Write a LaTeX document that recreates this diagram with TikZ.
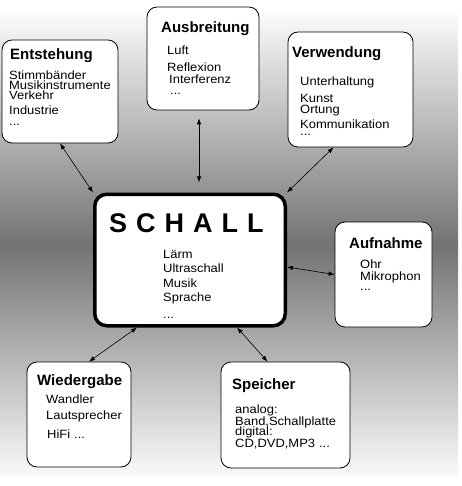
\documentclass[tikz,border=0pt]{standalone}
\usepackage{fontspec}
\setmainfont{Liberation Sans}
\newfontfamily\itemfont{Liberation Sans}[FakeStretch=1.08]
\usetikzlibrary{arrows.meta}
\definecolor{bgmid}{RGB}{115,115,115}
\definecolor{bgedge}{RGB}{250,250,250}
\newcommand{\lgap}{\hspace{9pt}}

\begin{document}
\begin{tikzpicture}[x=1pt,y=-1pt,
  topic/.style={rectangle,draw,rounded corners=10pt,fill=white,line width=0.8pt,inner sep=0pt},
  heading/.style={anchor=base west,inner sep=0pt,font={\fontsize{15}{15}\selectfont\bfseries}},
  items/.style={anchor=base west,inner sep=0pt,align=left,text width=130pt,font={\itemfont\fontsize{12}{10}\selectfont\lineskiplimit=-20pt}},
  link/.style={draw,line width=0.6pt,{Latex[length=6pt,width=4.5pt]}-{Latex[length=6pt,width=4.5pt]}}]
\useasboundingbox (0,0) rectangle (461,486);
\shade[top color=bgedge,bottom color=bgmid] (0,15) rectangle (458,245);
\shade[top color=bgmid,bottom color=bgedge] (0,245) rectangle (458,476);
% boxes
\node(entstbox)[topic,minimum width=116pt,minimum height=103pt] at (60,91.5){};
\node(ausbrbox)[topic,minimum width=112pt,minimum height=103pt] at (203,58.5){};
\node(verwbox)[topic,minimum width=125pt,minimum height=115pt] at (350.5,89.5){};
\node(schallbox)[topic,rounded corners=12pt,line width=3.5pt,minimum width=190.5pt,minimum height=131.5pt] at (190,260){};
\node(aufnbox)[topic,minimum width=97pt,minimum height=105pt] at (383.5,274.5){};
\node(wiederbox)[topic,minimum width=104pt,minimum height=105pt] at (79,414.5){};
\node(speichbox)[topic,minimum width=129pt,minimum height=106pt] at (285.5,415){};
% texts
\node(entsttitle)[heading] at (10,60){Entstehung};
\node(entstlist)[items] at (9,80){Stimmbänder\\Musikinstrumente\\Verkehr\\[5pt]Industrie\\[1pt]...};
\node(ausbrtitle)[heading] at (161,33){Ausbreitung};
\node(ausbrlist)[items] at (167,55){Luft\\[7pt]Reflexion\\[2pt]\hspace*{2pt}Interferenz\\[1pt]\hspace*{3pt}...};
\node(verwtitle)[heading] at (292,58){Verwendung};
\node(verwlist)[items] at (300,86){Unterhaltung\\[7pt]Kunst\\[1pt]Ortung\\[5pt]Kommunikation\\[-3pt]...};
\node(schalltitle)[anchor=base west,inner sep=0pt,font={\fontsize{27}{27}\selectfont\bfseries}] at (109,232){S\lgap C\lgap H\lgap A\lgap L\lgap L};
\node(schalllist)[items] at (163,258){Lärm\\[4pt]Ultraschall\\[5pt]Musik\\[4pt]Sprache\\[7pt]...};
\node(aufntitle)[heading] at (349,248){Aufnahme};
\node(aufnlist)[items] at (360,268){Ohr\\[2pt]Mikrophon\\...};
\node(wiedertitle)[heading] at (37,385){Wiedergabe};
\node(wiederlist)[items] at (46,403){Wandler\\[6pt]Lautsprecher\\[9pt]\hspace*{1pt}HiFi ...};
\node(speichtitle)[heading] at (232,389){Speicher};
\node(speichlist)[items] at (235,413){analog:\\[2pt]Band,Schallplatte\\digital:\\[2pt]CD,DVD,MP3 ...};
% connectors
\path[link] (entstbox.south) -- (schallbox.north west);
\path[link,shorten <=8pt,shorten >=10pt] ([xshift=-4pt]ausbrbox.south) -- ([xshift=-4pt]ausbrbox.south |- schallbox.north);
\path[link] ([xshift=-17pt]verwbox.south) -- (schallbox.north east);
\path[link] ([yshift=-7pt]schallbox.east) -- (aufnbox.west);
\path[link] ([xshift=-53pt]schallbox.south) -- ([xshift=10pt]wiederbox.north);
\path[link] ([xshift=47pt]schallbox.south) -- ([xshift=-18pt]speichbox.north);
\end{tikzpicture}
\end{document}
